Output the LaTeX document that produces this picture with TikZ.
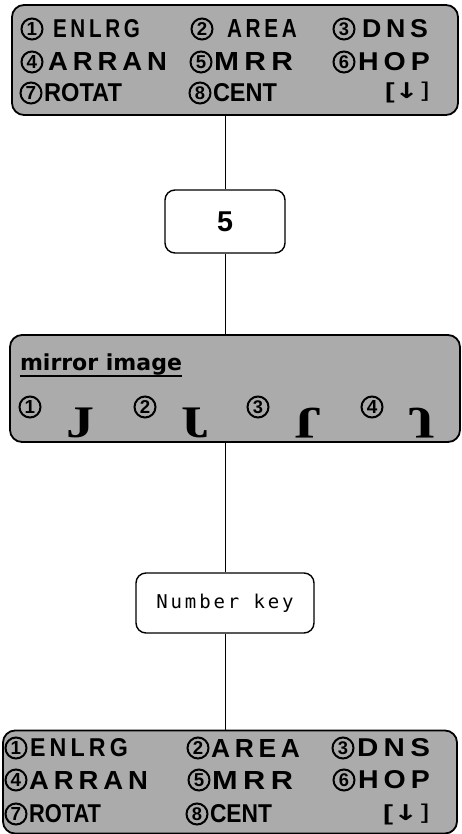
\documentclass[tikz,border=0pt]{standalone}
\usepackage{fontspec}
\usepackage{graphicx}
\setmainfont{Liberation Sans}
\newfontfamily\lcdfont[LetterSpace=18]{Liberation Sans Bold}
\newfontfamily\lcdtight{Liberation Sans Bold}
\newfontfamily\mifont{DejaVu Sans Bold}
\newfontfamily\symfont{DejaVu Sans}
\newfontfamily\jfont{Liberation Serif Bold}
\newfontfamily\keyfont[LetterSpace=15]{DejaVu Sans Mono}
\newcommand\lcd[2]{\resizebox{#1pt}{18pt}{\lcdfont #2}}
\newcommand\lcdt[2]{\resizebox{#1pt}{18pt}{\lcdtight #2}}
\newcommand\arrbox[1]{\resizebox*{#1pt}{21pt}{\lcdtight [\symfont\textbf{↓}]}}
\newcommand\jglyph{\resizebox*{28pt}{30pt}{\jfont J}}
\newcommand\dg[1]{\resizebox*{!}{13pt}{\lcdtight #1}}
\definecolor{halftone}{gray}{0.67}
\tikzset{
  panel/.style={draw=black, line width=1.8pt, fill=halftone, rounded corners=12pt, inner sep=0pt},
  keybox/.style={draw=black, line width=1.4pt, fill=white, rounded corners=10pt, inner sep=0pt},
  txt/.style={inner sep=0pt, outer sep=0pt},
  digit/.style={inner sep=0pt, outer sep=0pt},
  ring/.style={draw=black, line width=2pt},
  link/.style={draw=black, line width=1pt}
}
\newcommand\circnum[4]{% name, x, y, digit
  \node[digit] (#1) at (#2,#3) {\dg{#4}};
  \draw[ring] (#1.center) circle[radius=10.5pt];
}
\begin{document}
\begin{tikzpicture}[x=1pt,y=-1pt]
\useasboundingbox (0,0) rectangle (462,834);
% panels and boxes
\node[panel, minimum width=446pt, minimum height=110pt] (p1) at (235,60) {};
\node[keybox, minimum width=120pt, minimum height=63pt] (b5) at (225,221.5) {};
\node[panel, minimum width=450pt, minimum height=107pt] (mp) at (235,388.5) {};
\node[keybox, minimum width=178pt, minimum height=60pt] (nk) at (225,603) {};
\node[panel, minimum width=454pt, minimum height=103pt] (p2) at (230,782) {};
% connectors
\draw[link] (b5.north) -- (b5.north |- p1.south);
\draw[link] (b5.south) -- (b5.south |- mp.north);
\draw[link] (nk.north) -- (nk.north |- mp.south);
\draw[link] (nk.south) -- (nk.south |- p2.north);
% box texts
\node[txt] (five) at (b5.center) {\resizebox*{!}{20pt}{\lcdtight 5}};
\node[txt] (nktext) at (nk.center) {\keyfont\fontsize{19}{21}\selectfont Number key};
% top panel
\circnum{a1}{32}{29}{1}
\node[txt, anchor=west] (a1t) at (53,29) {\lcd{87}{ENLRG}};
\circnum{a2}{202}{29}{2}
\node[txt, anchor=west] (a2t) at (227,29) {\lcd{70}{AREA}};
\circnum{a3}{344}{29}{3}
\node[txt, anchor=west] (a3t) at (362,29) {\lcd{66}{DNS}};
\circnum{a4}{32}{62}{4}
\node[txt, anchor=west] (a4t) at (48,62) {\lcd{119}{ARRAN}};
\circnum{a5}{201}{62}{5}
\node[txt, anchor=west] (a5t) at (214,62) {\lcd{79}{MRR}};
\circnum{a6}{344}{62}{6}
\node[txt, anchor=west] (a6t) at (358,62) {\lcd{72}{HOP}};
\circnum{a7}{31}{93}{7}
\node[txt, anchor=west] (a7t) at (44,93) {\lcdt{78}{ROTAT}};
\circnum{a8}{200}{93}{8}
\node[txt, anchor=west] (a8t) at (213,93) {\lcdt{64}{CENT}};
\node[txt, anchor=west] (a9) at (385,93) {\arrbox{45}};
% mirror panel
\node[txt, anchor=base west] (mi) at (20,370) {\resizebox{162pt}{!}{\mifont\fontsize{22}{24}\selectfont mirror image}};
\draw[line width=1.6pt] (mi.south west) ++(0,1) -- ++(162,0);
\circnum{m1}{30}{407}{1}
\node[txt] (j1) at (80,423) {\jglyph};
\circnum{m2}{145}{407}{2}
\node[txt] (j2) at (195,423) {\reflectbox{\jglyph}};
\circnum{m3}{258}{407}{3}
\node[txt] (j3) at (308,423) {\rotatebox{180}{\jglyph}};
\circnum{m4}{372}{407}{4}
\node[txt] (j4) at (421,423) {\scalebox{1}[-1]{\jglyph}};
% bottom panel
\circnum{c1}{16}{748}{1}
\node[txt, anchor=west] (c1t) at (30,748) {\lcd{98}{ENLRG}};
\circnum{c2}{198}{748}{2}
\node[txt, anchor=west] (c2t) at (211,748) {\lcd{89}{AREA}};
\circnum{c3}{343}{748}{3}
\node[txt, anchor=west] (c3t) at (357,748) {\lcd{73}{DNS}};
\circnum{c4}{16}{780}{4}
\node[txt, anchor=west] (c4t) at (29,780) {\lcd{119}{ARRAN}};
\circnum{c5}{199}{780}{5}
\node[txt, anchor=west] (c5t) at (212,780) {\lcd{81}{MRR}};
\circnum{c6}{344}{780}{6}
\node[txt, anchor=west] (c6t) at (358,780) {\lcd{72}{HOP}};
\circnum{c7}{16}{814}{7}
\node[txt, anchor=west] (c7t) at (29,814) {\lcdt{72}{ROTAT}};
\circnum{c8}{197}{814}{8}
\node[txt, anchor=west] (c8t) at (210,814) {\lcdt{62}{CENT}};
\node[txt, anchor=west] (c9) at (383,814) {\arrbox{47}};
\end{tikzpicture}
\end{document}
